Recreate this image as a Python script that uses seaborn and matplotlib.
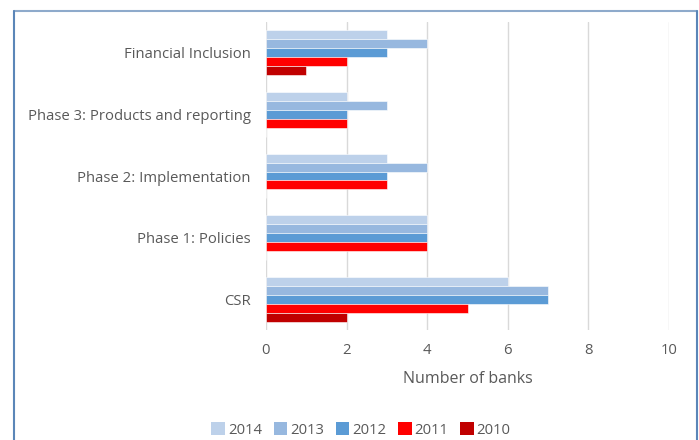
import matplotlib
matplotlib.use("Agg")
import matplotlib.pyplot as plt
from matplotlib.lines import Line2D
from matplotlib.patches import Patch
import seaborn as sns
import pandas as pd

categories = ["Financial Inclusion", "Phase 3: Products and reporting",
              "Phase 2: Implementation", "Phase 1: Policies", "CSR"]
years = ["2014", "2013", "2012", "2011", "2010"]
v2014 = [3, 2, 3, 4, 6]
v2013 = [4, 3, 4, 4, 7]
v2012 = [3, 2, 3, 4, 7]
v2011 = [2, 2, 3, 4, 5]
v2010 = [1, 0, 0, 0, 2]
colors = ["#BDD1EA", "#97B8DF", "#5B9BD5", "#FF0000", "#C00000"]

series = dict(zip(years, [v2014, v2013, v2012, v2011, v2010]))
rows = []
for y, vals in series.items():
    for c, v in zip(categories, vals):
        rows.append({"category": c, "year": y, "value": v})
df = pd.DataFrame(rows)

sns.set_theme(style="white")
plt.rcParams["font.family"] = ["Open Sans", "DejaVu Sans"]

fig = plt.figure(figsize=(6.99, 4.40), dpi=100)
ax = fig.add_axes([266/699, 1-330/440, (669-266)/699, (330-22)/440])

sns.barplot(data=df, y="category", x="value", hue="year", order=categories,
            hue_order=years, palette=colors, orient="h", width=0.73,
            saturation=1, edgecolor="white", linewidth=0.4, ax=ax, legend=False)

ax.set_xlim(0, 10)
ax.set_xticks([0, 2, 4, 6, 8, 10])
ax.set_ylim(4.5, -0.5)
ax.grid(axis="x", color="#D9D9D9", linewidth=1)
ax.set_axisbelow(True)
for s in ax.spines.values():
    s.set_visible(False)
ax.tick_params(axis="both", length=0, labelsize=10.7, colors="#595959")
ax.tick_params(axis="y", pad=11)
ax.tick_params(axis="x", pad=9)
ax.set_ylabel("")
ax.set_xlabel("Number of banks", fontsize=11.5, color="#595959", labelpad=10)

handles = [Patch(facecolor=c, edgecolor="none") for c in colors]
fig.legend(handles, years, loc="center", bbox_to_anchor=(361/699, 1-430/440),
           ncol=5, frameon=False, fontsize=10.7, handlelength=0.9, handleheight=0.9,
           handletextpad=0.2, columnspacing=0.8, labelcolor="#595959")

x0, x1, yt = 14/699, 697/699, 1-11/440
fig.add_artist(Line2D([x0, x1], [yt, yt], color="#8EAACB", lw=1.5, transform=fig.transFigure))
fig.add_artist(Line2D([x0, x0], [yt, -0.01], color="#5B86B8", lw=1.5, transform=fig.transFigure))
fig.add_artist(Line2D([x1, x1], [yt, -0.01], color="#5B86B8", lw=1.5, transform=fig.transFigure))

fig.savefig("out.png", dpi=100)
